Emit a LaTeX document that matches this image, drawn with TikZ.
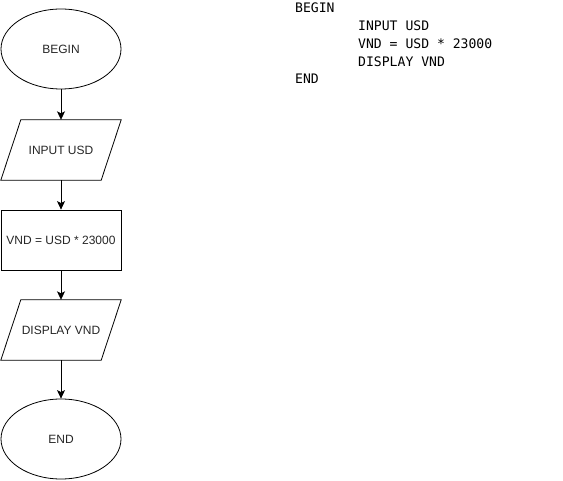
\documentclass[tikz,border=0pt]{standalone}
\usepackage{fontspec}
\setmainfont{Liberation Sans}
\newfontfamily\codefont{DejaVu Sans Mono}
\usetikzlibrary{shapes.geometric,arrows.meta,calc}
\begin{document}
\begin{tikzpicture}[x=1pt,y=-1pt,
  lbl/.style={font=\fontsize{12}{14}\selectfont, text=black!85, inner sep=0pt},
  term/.style={lbl, ellipse, draw, line width=0.8pt, minimum width=120pt, minimum height=80pt},
  procbox/.style={lbl, rectangle, draw, line width=0.8pt, minimum width=120pt, minimum height=60pt},
  iobox/.style={lbl, rectangle, minimum width=120pt, minimum height=60pt},
  iodraw/.style={draw, line width=0.8pt, line join=miter},
  flow/.style={-{Stealth[length=8.5pt,width=8pt,inset=2pt]}, line width=0.8pt},
  code/.style={anchor=base west, inner sep=0pt, font=\codefont\fontsize{13.1}{15}\selectfont}
]
\useasboundingbox[fill=white] (0,0) rectangle (563,481);
\node[term] (begin) at (61,49) {BEGIN};
\node[iobox] (input) at (61,150) {INPUT USD};
\node[procbox] (calc) at (61,240) {VND = USD * 23000};
\node[iobox] (display) at (61,330) {DISPLAY VND};
\node[term] (end) at (61,439) {END};
\draw[iodraw] (input.south west) -- ($(input.north west)+(20,0)$) -- (input.north east) -- ($(input.south east)+(-20,0)$) -- cycle;
\draw[iodraw] (display.south west) -- ($(display.north west)+(20,0)$) -- (display.north east) -- ($(display.south east)+(-20,0)$) -- cycle;
\draw[flow] (begin.south) -- (input.north);
\draw[flow] (input.south) -- (calc.north);
\draw[flow] (calc.south) -- (display.north);
\draw[flow] (display.south) -- (end.north);
\node[code] (c1) at (295,13) {BEGIN};
\node[code] (c2) at (358,31) {INPUT USD};
\node[code] (c3) at (358,49) {VND = USD * 23000};
\node[code] (c4) at (358,67) {DISPLAY VND};
\node[code] (c5) at (295,84) {END};
\end{tikzpicture}
\end{document}
